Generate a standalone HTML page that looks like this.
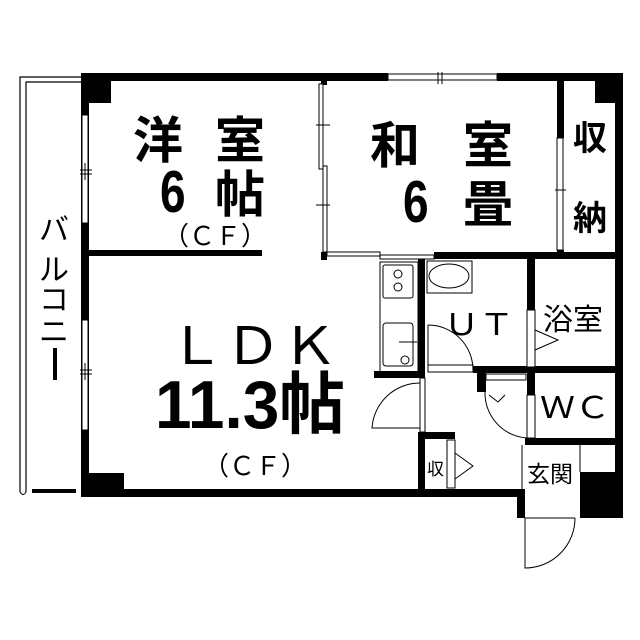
<!DOCTYPE html>
<html><head><meta charset="utf-8"><style>
html,body{margin:0;padding:0;background:#fff;}
svg{display:block;}
text{font-family:"Liberation Sans","Noto Sans CJK JP",sans-serif;fill:#000;}
</style></head><body>
<svg width="640" height="640" viewBox="0 0 640 640" xmlns="http://www.w3.org/2000/svg">
<rect width="640" height="640" fill="#fff"/>
<path d="M81 77 H20 V492" fill="none" stroke="#000" stroke-width="1.2"/>
<path d="M81 82 H26 V492" fill="none" stroke="#000" stroke-width="1.2"/>
<path d="M20 492 Q23 497 26 492" fill="none" stroke="#000" stroke-width="1"/>
<rect x="32" y="489" width="44" height="4" fill="#000"/>
<g fill="#000">
<rect x="81" y="73" width="307" height="8"/>
<rect x="497" y="73" width="126" height="8"/>
<rect x="81" y="73" width="8" height="424"/>
<rect x="81" y="489" width="444" height="8"/>
<rect x="615" y="73" width="8" height="445"/>
<rect x="81" y="73" width="30" height="30"/>
<rect x="595" y="73" width="28" height="30"/>
<rect x="81" y="473" width="43" height="24"/>
<rect x="580" y="472" width="43" height="46"/>
<rect x="517" y="489" width="8" height="29"/>
<rect x="89" y="250" width="173" height="6"/>
<rect x="321" y="80" width="6" height="5"/>
<rect x="321" y="252" width="6" height="8"/>
<rect x="434" y="252" width="185" height="7"/>
<rect x="557" y="80" width="7" height="58"/>
<rect x="557" y="250" width="7" height="6"/>
<rect x="418" y="258" width="7" height="117"/>
<rect x="374" y="371" width="51" height="7"/>
<rect x="527" y="258" width="8" height="52"/>
<rect x="473" y="366" width="142" height="7"/>
<rect x="477" y="368" width="9" height="24"/>
<rect x="527" y="373" width="8" height="22"/>
<rect x="525" y="438" width="90" height="7"/>
<rect x="418" y="432" width="7" height="58"/>
<rect x="418" y="432" width="37" height="7"/>
</g>
<g fill="#fff" stroke="#000" stroke-width="1">
<rect x="82" y="115" width="6" height="108"/>
<rect x="82" y="320" width="6" height="110"/>
<rect x="388" y="74" width="109" height="6"/>
<rect x="319" y="84" width="4" height="85"/>
<rect x="323" y="166" width="4" height="86"/>
<rect x="327" y="252" width="53" height="4"/>
<rect x="380" y="255" width="54" height="4"/>
<rect x="557" y="138" width="6" height="112"/>
<rect x="527" y="310" width="8" height="57"/>
<rect x="527" y="395" width="8" height="43"/>
<rect x="447" y="440" width="8" height="48"/>
<rect x="428" y="365" width="45" height="7"/>
<rect x="420" y="378" width="5" height="54"/>
<rect x="486" y="374" width="40" height="6"/>
</g>
<g stroke="#000" stroke-width="1" fill="none">
<path d="M80 170 H92 M80 174 H92 M85 163 V180"/>
<path d="M80 370 H92 M80 374 H92 M85 363 V380"/>
<path d="M438 72 V84 M442 72 V84"/>
<path d="M316 125 H330 M316 205 H330 M555 190 H566"/>
<rect x="380" y="262" width="38" height="110"/>
<rect x="383" y="265" width="30" height="33" rx="2"/>
<circle cx="398" cy="274" r="4"/><circle cx="398" cy="287" r="4"/>
<rect x="383" y="323" width="30" height="43" rx="3"/>
<path d="M399 342 H417"/><circle cx="405" cy="360" r="4"/>
<rect x="427" y="261" width="45" height="32"/>
<ellipse cx="449" cy="276" rx="20" ry="12"/>
<path d="M428 325 A45 45 0 0 1 473 370"/>
<path d="M428 325 V370"/>
<path d="M420 383 A48 48 0 0 0 372 428 H420"/>
<path d="M485 392 A45 45 0 0 0 527 438"/>
<path d="M489 395 L498 402 L505 395"/>
<path d="M535 330 L558 340 L535 350"/>
<path d="M455 453 L473 466 L455 479"/>
<path d="M522 445 V490 M580 445 V472"/>
<path d="M525 518 V568 A50 50 0 0 0 575 518 M525 518 H575"/>
</g>
<g font-weight="bold">
<text x="133" y="158" font-size="50">洋</text>
<text x="215" y="158" font-size="50">室</text>
<text x="370" y="163" font-size="50">和</text>
<text x="463" y="163" font-size="50">室</text>
<text x="215" y="212" font-size="50">帖</text>
<text x="463" y="222" font-size="50">畳</text>
<text x="573" y="150" font-size="34">収</text>
<text x="573" y="230" font-size="34">納</text>
</g>
<text font-size="46" font-weight="bold" transform="translate(160,212) scale(1,1.3)">6</text>
<text font-size="46" font-weight="bold" transform="translate(403,222) scale(1,1.3)">6</text>
<text font-size="52" font-weight="bold" transform="translate(155,428) scale(1,1.3)" textLength="190" lengthAdjust="spacingAndGlyphs">11.3帖</text>
<text x="163" y="245" font-size="26" textLength="104" lengthAdjust="spacingAndGlyphs">（ＣＦ）</text>
<text x="203" y="475" font-size="26" textLength="104" lengthAdjust="spacingAndGlyphs">（ＣＦ）</text>
<text x="168" y="364" font-size="52" textLength="170" lengthAdjust="spacingAndGlyphs">ＬＤＫ</text>
<text x="444" y="335" font-size="30" textLength="70" lengthAdjust="spacingAndGlyphs">ＵＴ</text>
<text x="543" y="330" font-size="30">浴室</text>
<text x="540" y="418" font-size="30" textLength="70" lengthAdjust="spacingAndGlyphs">ＷＣ</text>
<text x="527" y="482" font-size="23">玄関</text>
<text x="427" y="475" font-size="17">収</text>
<g font-size="30">
<text x="39" y="240">バ</text>
<text x="39" y="280">ル</text>
<text x="39" y="310">コ</text>
<text x="39" y="342">ニ</text>
<rect x="53" y="348" width="4" height="32" fill="#000"/>
</g>
</svg>
</body></html>
